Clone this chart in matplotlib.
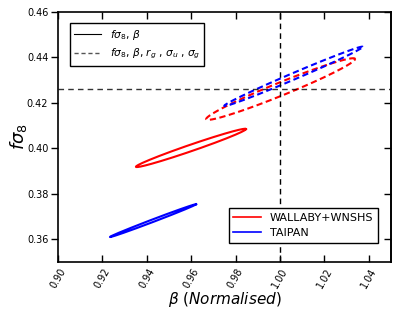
import numpy as np
import matplotlib
matplotlib.use("Agg")
import matplotlib.pyplot as plt
from matplotlib.lines import Line2D

# Ellipse parameters: centre (beta, fsigma8), sigma_beta, sigma_fs8, correlation
names = ["WALLABY+WNSHS", "TAIPAN"]
colors = ["red", "blue"]
# solid: (fsigma8, beta) only
solid_center_beta = [0.9599, 0.9428]
solid_center_fs8 = [0.4002, 0.3682]
solid_sig_beta = [0.0248, 0.0194]
solid_sig_fs8 = [0.00843, 0.00722]
solid_rho = [0.984, 0.9965]
# dashed: (fsigma8, beta, r_g, sigma_u, sigma_g)
dash_center_beta = [1.0003, 1.0061]
dash_center_fs8 = [0.4261, 0.4317]
dash_sig_beta = [0.03355, 0.0312]
dash_sig_fs8 = [0.01356, 0.01306]
dash_rho = [0.9735, 0.993]

beta_fid = 1.0
fs8_fid = 0.426

xticks = [0.90, 0.92, 0.94, 0.96, 0.98, 1.00, 1.02, 1.04]
yticks = [0.36, 0.38, 0.40, 0.42, 0.44, 0.46]


def ellipse(cx, cy, sx, sy, rho, n=400):
    cov = np.array([[sx**2, rho*sx*sy], [rho*sx*sy, sy**2]])
    L = np.linalg.cholesky(cov)
    t = np.linspace(0, 2*np.pi, n)
    circ = np.vstack([np.cos(t), np.sin(t)])
    pts = L @ circ
    return cx + pts[0], cy + pts[1]


fig = plt.figure(figsize=(4.15, 3.12), dpi=100)
ax = fig.add_axes([0.1398, 0.1603, 0.942 - 0.1398, 0.9615 - 0.1603])

for i in range(2):
    x, y = ellipse(solid_center_beta[i], solid_center_fs8[i], solid_sig_beta[i],
                   solid_sig_fs8[i], solid_rho[i])
    ax.plot(x, y, color=colors[i], lw=1.5)
    x, y = ellipse(dash_center_beta[i], dash_center_fs8[i], dash_sig_beta[i],
                   dash_sig_fs8[i], dash_rho[i])
    ax.plot(x, y, color=colors[i], lw=1.5, ls=(0, (3, 1.7)))

ax.axvline(beta_fid, color="black", lw=1.0, ls=(0, (4, 3)))
ax.axhline(fs8_fid, color="black", lw=1.0, ls=(0, (4, 3)), alpha=0.8)

ax.set_xlim(0.90, 1.05)
ax.set_ylim(0.35, 0.46)
ax.set_xticks(xticks)
ax.set_xticklabels(["%.2f" % v for v in xticks], rotation=60, fontsize=7)
ax.set_yticks(yticks)
ax.set_yticklabels(["%.2f" % v for v in yticks], fontsize=7)
ax.tick_params(axis="x", direction="in", top=True, length=5, width=1, pad=3)
ax.tick_params(axis="y", direction="out", length=5, width=1, right=False, pad=2)

sec = ax.secondary_yaxis("right")
sec.set_yticks(yticks)
sec.tick_params(direction="in", length=5, width=1, labelright=False)
sec.spines["right"].set_linewidth(1.2)

for sp in ax.spines.values():
    sp.set_linewidth(1.2)

ax.set_xlabel(r"$\beta$ ($\mathit{Normalised}$)", fontsize=11)
ax.xaxis.set_label_coords(0.5, -0.112)
ax.set_ylabel(r"$f\sigma_8$", fontsize=13)
ax.yaxis.set_label_coords(-0.088, 0.5)

h1 = [Line2D([], [], color="black", lw=0.8),
      Line2D([], [], color="#555555", lw=1.0, ls=(0, (3, 2)))]
leg1 = ax.legend(h1, [r"$f\sigma_8$, $\beta$",
                      r"$f\sigma_8$, $\beta$, $r_g$ , $\sigma_u$ , $\sigma_g$"],
                 loc="upper left", bbox_to_anchor=(0.036, 0.955), borderaxespad=0,
                 fontsize=7.7, fancybox=False, edgecolor="black", framealpha=1,
                 handlelength=2.5)
leg1.get_frame().set_linewidth(1.0)
ax.add_artist(leg1)

h2 = [Line2D([], [], color=c, lw=1.2) for c in colors]
leg2 = ax.legend(h2, ["WALLABY+WNSHS", "TAIPAN"], loc="lower right",
                 bbox_to_anchor=(0.96, 0.077), borderaxespad=0, fontsize=8,
                 fancybox=False, edgecolor="black", framealpha=1, handlelength=2.5)
leg2.get_frame().set_linewidth(1.0)

fig.savefig("out.png", dpi=100)
